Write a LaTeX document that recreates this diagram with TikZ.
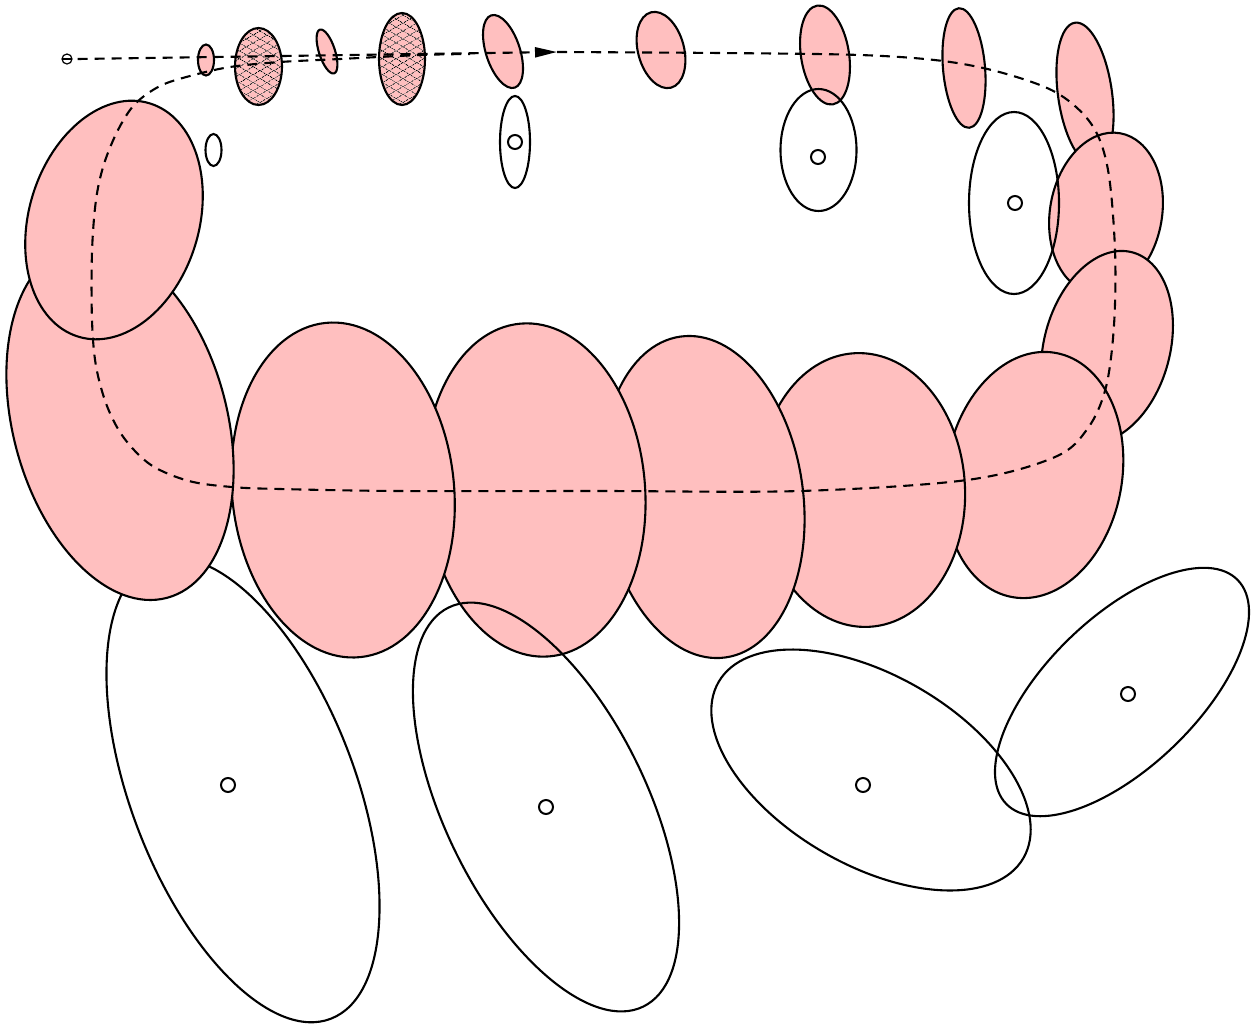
\documentclass[tikz,border=0pt]{standalone}
\usetikzlibrary{arrows.meta,patterns.meta}
\definecolor{covpink}{RGB}{255,191,191}
\begin{document}
\begin{tikzpicture}[line cap=butt,line join=miter,x=1pt,y=-1pt]
		\tikzset{
			covar/.style={fill=covpink,draw=black,line width=2.1pt},
			lmark/.style={draw=black,line width=2.1pt},
			lmdot/.style={draw=black,fill=white,line width=2pt},
			traj/.style={line width=2.1pt,dash pattern=on 10pt off 7pt},
			hatchA/.style={pattern={Lines[angle=30,distance=6.5pt,line width=0.6pt]}},
			hatchB/.style={pattern={Lines[angle=-30,distance=6.5pt,line width=0.6pt]}}
		}
		\useasboundingbox (0,0) rectangle (1252,1026);
		% hatched poses
		\foreach \cx/\cy/\rx/\ry in {258.5/66.5/23.5/38.5,402/59/23/46}{
			\fill[covpink] (\cx,\cy) ellipse[x radius=\rx,y radius=\ry];
			\fill[hatchA] (\cx,\cy) ellipse[x radius=\rx,y radius=\ry];
			\fill[hatchB] (\cx,\cy) ellipse[x radius=\rx,y radius=\ry];
			\draw[lmark] (\cx,\cy) ellipse[x radius=\rx,y radius=\ry];
		}
		% pose covariances along the path
		\foreach \cx/\cy/\rx/\ry/\a in {206/60/8/15.5/0,327/51.5/8/23/18,503/51.5/17/38/18,
				661/50/23/39/15,825/55/24/50/9,964/68/21/60/5,1085/94/27/72/8,
				1106/213/56/81/-10,1107/347/63/98/-15,1034/475/88/124/-10,
				862/490/103/137/3,703/497/100/162/8,535/490/110/167/5,343/490/111/168/6}
			\draw[covar,rotate around={\a:(\cx,\cy)}] (\cx,\cy) ellipse[x radius=\rx,y radius=\ry];
		% landmark covariances
		\foreach \cx/\cy/\rx/\ry/\a in {213.5/150/8/16/0,515/142/15/46/0,818.5/150/38/61/0,
				1014/203/45/91/0,1122/692/161/75/44,871/770/176/95/-30,546/807/101/222/26,
				243/790/112/245/21}
			\draw[lmark,rotate around={\a:(\cx,\cy)}] (\cx,\cy) ellipse[x radius=\rx,y radius=\ry];
		\foreach \cx/\cy/\rx/\ry/\a in {120/422/107/182/15,114/220/85/122/-17}
			\draw[covar,rotate around={\a:(\cx,\cy)}] (\cx,\cy) ellipse[x radius=\rx,y radius=\ry];
		% trajectory
		\node[draw,circle,line width=1.2pt,minimum size=10pt,inner sep=0pt] (start) at (67,59) {};
		\draw[line width=1.2pt] ([xshift=-4pt]start.center) -- ([xshift=4pt]start.center);
		\coordinate (tip) at (557,52);
		\draw[traj,-{Triangle[length=22pt,width=10pt]}] ([xshift=5pt]start.east) -- (tip);
		\draw[traj] plot[smooth,tension=0.55] coordinates {(tip) (720,53) (860,55) (943,61)
			(1003,73) (1057,93) (1092,125) (1108,170) (1115,250) (1114,325) (1106,387)
			(1088,428) (1055,457) (967,480) (800,491) (600,491) (400,491) (280,489)
			(232,487) (189,481) (151,465) (124,438) (107,406) (96,366) (92,320) (92,252)
			(96,200) (104,164) (118,130) (135,104) (160,86) (190,76) (230,67) (280,62)
			(340,59) (420,55) (470,54)};
		% landmark estimates
		\foreach \p in {(515,142),(818,157),(1015,203),(1128,694),(863,785),(546,807),(228,785)}
			\draw[lmdot] \p circle[radius=7];
	\end{tikzpicture}
\end{document}
